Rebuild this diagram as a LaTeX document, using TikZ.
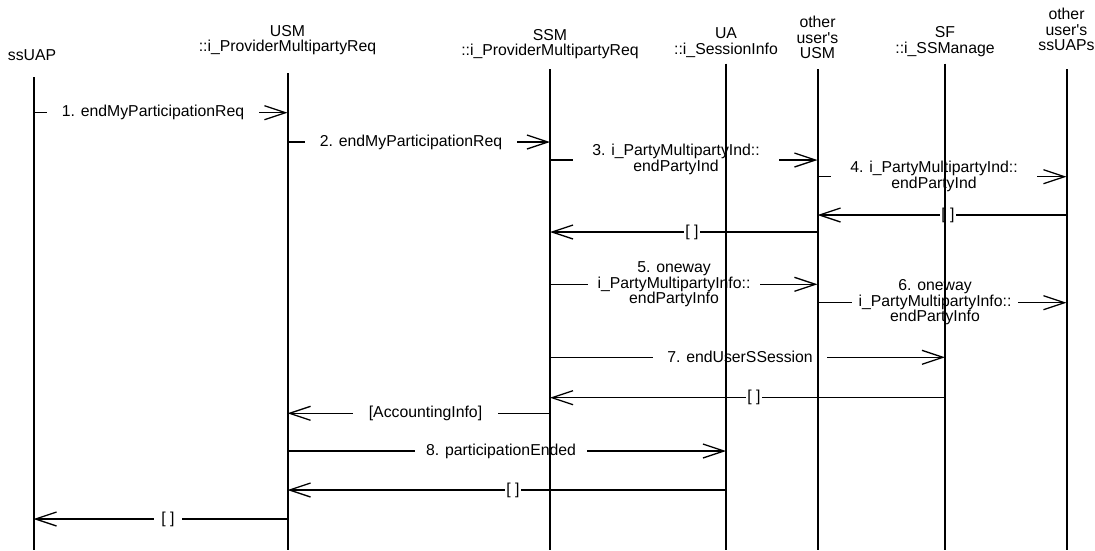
\documentclass[tikz,border=0pt]{standalone}
\usepackage{fontspec}
\setmainfont{Liberation Sans}
\usetikzlibrary{arrows.meta}
\begin{document}
\begin{tikzpicture}[x=1pt,y=-1pt,
  txt/.style={font=\fontsize{15.8}{15.5}\selectfont, align=center, inner sep=0pt},
  life/.style={line width=2pt},
  msg/.style={line width=1.3pt, -{Straight Barb[length=21pt,width=14pt]}},
  lbl/.style={txt, fill=white, inner xsep=15pt, inner ysep=1pt},
  ret/.style={txt, fill=white, inner xsep=1pt, inner ysep=0pt}]
\useasboundingbox (0,0) rectangle (1095,550);
% headers
\node[txt] (hA) at (32,55) {ssUAP};
\node[txt] (hB) at (287.5,40) {USM\\::i\_ProviderMultipartyReq};
\node[txt] (hC) at (550,44) {SSM\\::i\_ProviderMultipartyReq};
\node[txt] (hD) at (726,42.5) {UA\\::i\_SessionInfo};
\node[txt] (hE) at (817.5,37.5) {other\\user\textquotesingle s\\USM};
\node[txt] (hF) at (945,41.5) {SF\\::i\_SSManage};
\node[txt] (hG) at (1066.5,29.5) {other\\user\textquotesingle s\\ssUAPs};
% lifeline ends
\coordinate (tA) at (33.5,77);   \coordinate (bA) at (33.5,550);
\coordinate (tB) at (287.5,73);  \coordinate (bB) at (287.5,550);
\coordinate (tC) at (550,69);    \coordinate (bC) at (550,550);
\coordinate (tD) at (726,63.5);  \coordinate (bD) at (726,550);
\coordinate (tE) at (817.5,69);  \coordinate (bE) at (817.5,550);
\coordinate (tF) at (945,63.5);  \coordinate (bF) at (945,550);
\coordinate (tG) at (1066.5,69); \coordinate (bG) at (1066.5,550);
% message end points
\coordinate (m1a) at (33.5,112.7);  \coordinate (m1b) at (287.5,112.7);
\coordinate (m2a) at (287.5,142);   \coordinate (m2b) at (550,142);
\coordinate (m3a) at (550,160);     \coordinate (m3b) at (817.5,160);
\coordinate (m4a) at (817.5,176.7); \coordinate (m4b) at (1066.5,176.7);
\coordinate (r1a) at (1066.5,215);  \coordinate (r1b) at (817.5,215);
\coordinate (r2a) at (817.5,232);   \coordinate (r2b) at (550,232);
\coordinate (m5a) at (550,284.3);   \coordinate (m5b) at (817.5,284.3);
\coordinate (m6a) at (817.5,302.7); \coordinate (m6b) at (1066.5,302.7);
\coordinate (m7a) at (550,357.3);   \coordinate (m7b) at (945,357.3);
\coordinate (r3a) at (945,397.7);   \coordinate (r3b) at (550,397.7);
\coordinate (m9a) at (550,413.3);   \coordinate (m9b) at (287.5,413.3);
\coordinate (m8a) at (287.5,451);   \coordinate (m8b) at (726,451);
\coordinate (r4a) at (726,490);     \coordinate (r4b) at (287.5,490);
\coordinate (r5a) at (287.5,519);   \coordinate (r5b) at (33.5,519);
% message lines
\foreach \a/\b in {m1a/m1b,m2a/m2b,m3a/m3b,m4a/m4b,r1a/r1b,r2a/r2b,m5a/m5b,m6a/m6b,m7a/m7b,r3a/r3b,m9a/m9b,m8a/m8b,r4a/r4b,r5a/r5b}
  \draw[msg] (\a) -- (\b);
% labels
\node[lbl] (L1) at (153,112.7) {1. endMyParticipationReq};
\node[lbl] (L2) at (411,142) {2. endMyParticipationReq};
\node[lbl, inner xsep=19pt] (L3) at (676,159.5) {3. i\_PartyMultipartyInd::\\endPartyInd};
\node[lbl, inner xsep=19pt] (L4) at (934,176.5) {4. i\_PartyMultipartyInd::\\endPartyInd};
\node[ret] (R1) at (948,215) {[ ]};
\node[ret] (R2) at (692,232) {[ ]};
\node[lbl, inner xsep=10pt] (L5) at (674,284.5) {5. oneway\\i\_PartyMultipartyInfo::\\endPartyInfo};
\node[lbl, inner xsep=7pt] (L6) at (935,302.5) {6. oneway\\i\_PartyMultipartyInfo::\\endPartyInfo};
\node[lbl, inner xsep=14pt] (L7) at (740,357.3) {7. endUserSSession};
\node[ret] (R3) at (754,397.7) {[ ]};
\node[lbl, inner xsep=16pt] (L9) at (425.5,413.3) {[AccountingInfo]};
\node[lbl, inner xsep=11pt] (L8) at (501,451) {8. participationEnded};
\node[ret] (R4) at (513,490) {[ ]};
\node[ret, inner xsep=7pt] (R5) at (168,519) {[ ]};
% lifelines (drawn on top)
\foreach \n in {A,B,C,D,E,F,G}
  \draw[life] (t\n) -- (b\n);
\end{tikzpicture}
\end{document}
